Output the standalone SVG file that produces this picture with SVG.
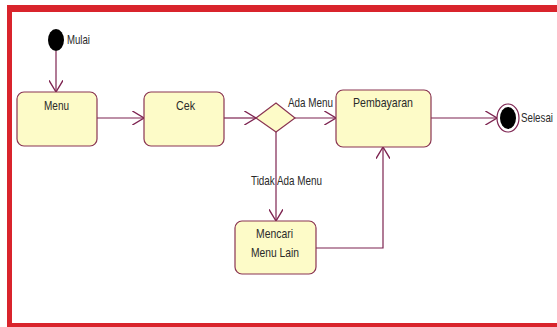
<svg xmlns="http://www.w3.org/2000/svg" width="557" height="327" viewBox="0 0 557 327">
  <defs>
    <style>
      .box { fill: #fdfbc8; stroke: #8a3452; stroke-width: 1.2; }
      .dia { fill: #fdfbc8; stroke: #8a3452; stroke-width: 1.2; }
      .edge { fill: none; stroke: #7d2350; stroke-width: 1.2; }
      .t { font-family: "Liberation Sans", Arial, sans-serif; font-size: 13px; fill: #2a2a2a; }
      .border { fill: #d9242c; }
    </style>
    <marker id="arr" markerUnits="userSpaceOnUse" markerWidth="14" markerHeight="14" refX="10" refY="6" orient="auto" viewBox="0 0 12 12">
      <path d="M0,0 L10,6 L0,12" fill="none" stroke="#7d2350" stroke-width="1.2"/>
    </marker>
  </defs>
  <rect x="0" y="0" width="557" height="327" fill="#ffffff"/>
  <g id="frame">
    <rect class="border" x="7" y="5" width="550" height="7"/>
    <rect class="border" x="7" y="5" width="5" height="322"/>
    <rect class="border" x="7" y="323" width="550" height="4"/>
  </g>
  <g id="connectors">
    <line class="edge" x1="56" y1="51" x2="56" y2="92" marker-end="url(#arr)"/>
    <line class="edge" x1="97" y1="118" x2="144" y2="118" marker-end="url(#arr)"/>
    <line class="edge" x1="224" y1="118" x2="256" y2="118" marker-end="url(#arr)"/>
    <line class="edge" x1="295" y1="118" x2="336" y2="118" marker-end="url(#arr)"/>
    <line class="edge" x1="431" y1="118" x2="497" y2="118" marker-end="url(#arr)"/>
    <line class="edge" x1="276" y1="132" x2="276" y2="221" marker-end="url(#arr)"/>
    <polyline class="edge" points="316,248 383,248 383,147" marker-end="url(#arr)"/>
    <text class="t" x="288" y="107" textLength="45" lengthAdjust="spacingAndGlyphs">Ada Menu</text>
    <text class="t" x="251" y="185" textLength="71" lengthAdjust="spacingAndGlyphs">Tidak Ada Menu</text>
  </g>
  <g id="start">
    <ellipse cx="56" cy="40" rx="8" ry="11" fill="#000000"/>
    <text class="t" x="67" y="44" textLength="23" lengthAdjust="spacingAndGlyphs">Mulai</text>
  </g>
  <g id="menu">
    <rect class="box" x="17" y="92" width="80" height="54" rx="7"/>
    <text class="t" x="44" y="110" textLength="25" lengthAdjust="spacingAndGlyphs">Menu</text>
  </g>
  <g id="cek">
    <rect class="box" x="144" y="92" width="80" height="54" rx="7"/>
    <text class="t" x="176" y="110" textLength="19" lengthAdjust="spacingAndGlyphs">Cek</text>
  </g>
  <g id="decision">
    <polygon class="dia" points="256,118 276,103 295,118 276,132"/>
  </g>
  <g id="pembayaran">
    <rect class="box" x="336" y="90" width="95" height="57" rx="7"/>
    <text class="t" x="353" y="107" textLength="60" lengthAdjust="spacingAndGlyphs">Pembayaran</text>
  </g>
  <g id="mencari">
    <rect class="box" x="235" y="221" width="81" height="53" rx="7"/>
    <text class="t" x="256" y="238" textLength="37" lengthAdjust="spacingAndGlyphs">Mencari</text>
    <text class="t" x="251" y="257" textLength="48" lengthAdjust="spacingAndGlyphs">Menu Lain</text>
  </g>
  <g id="end">
    <ellipse cx="508" cy="118" rx="11" ry="14" fill="#ffffff" stroke="#7d2350" stroke-width="1.2"/>
    <ellipse cx="508" cy="118" rx="8" ry="11" fill="#000000"/>
    <text class="t" transform="translate(521,122) scale(0.75,1)" x="0" y="0">Selesai</text>
  </g>
</svg>
